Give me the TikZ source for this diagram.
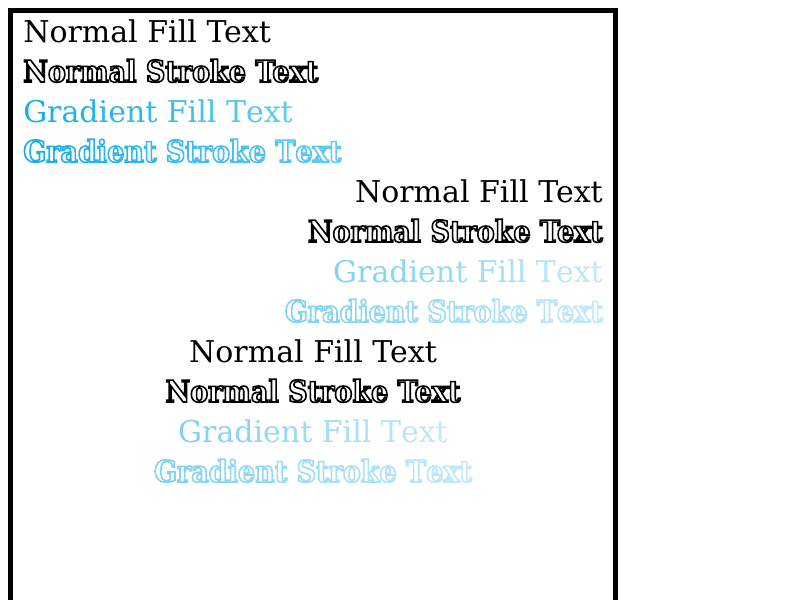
\documentclass[tikz,border=0pt]{standalone}
\usepackage{fontspec}
\setmainfont{DejaVu Serif}
\newfontfamily\stkfont{DejaVu Serif}[FakeStretch=0.9]
\usepackage{xcolor}
\definecolor{gA}{HTML}{1AAEE6}
\definecolor{gB}{HTML}{5FCBF2}
\definecolor{gC}{HTML}{81D2F2}
\definecolor{gD}{HTML}{C2E9F9}
\ExplSyntaxOn
\NewDocumentCommand\gradtext{mmm}{
  \str_set:Nn \l_tmpa_str {#3}
  \int_set:Nn \l_tmpa_int {\str_count:N \l_tmpa_str}
  \int_zero:N \l_tmpb_int
  \str_map_inline:Nn \l_tmpa_str
   {
     \int_incr:N \l_tmpb_int
     \textcolor{#2!\int_eval:n{(100*(\l_tmpb_int-1))/(\l_tmpa_int-1)}!#1}{\relax##1}
   }
}
\ExplSyntaxOff
\newcommand\outl[1]{\special{pdf:literal direct 1 Tr 1.2 w}#1\special{pdf:literal direct 0 Tr}}
\tikzset{
  txt/.style={inner sep=0pt,font=\fontsize{22.5pt}{27pt}\selectfont},
  stk/.style={inner sep=0pt,font=\fontsize{22.5pt}{27pt}\stkfont\bfseries},
}
\begin{document}
\begin{tikzpicture}[x=0.75pt,y=-0.75pt]
\useasboundingbox (0,0) rectangle (800,600);
\clip (0,0) rectangle (800,600);
\fill[white] (0,0) rectangle (800,600);
\draw[line width=3.75pt] (10.5,640) -- (10.5,10.5) -- (615.5,10.5) -- (615.5,640);
% block 1
\node[txt,anchor=base west] (a1) at (23,42) {Normal Fill Text};
\node[stk,anchor=base west] (a2) at (23,82) {\outl{Normal Stroke Text}};
\node[txt,anchor=base west] (a3) at (23,122) {\gradtext{gA}{gB}{Gradient Fill Text}};
\node[stk,anchor=base west] (a4) at (23,162) {\outl{\gradtext{gA}{gB}{Gradient Stroke Text}}};
% block 2
\node[txt,anchor=base east] (b1) at (603,202) {Normal Fill Text};
\node[stk,anchor=base east] (b2) at (603,242) {\outl{Normal Stroke Text}};
\node[txt,anchor=base east] (b3) at (603,282) {\gradtext{gC}{gD}{Gradient Fill Text}};
\node[stk,anchor=base east] (b4) at (603,322) {\outl{\gradtext{gC}{gD}{Gradient Stroke Text}}};
% block 3
\node[txt,anchor=base] (c1) at (313,362) {Normal Fill Text};
\node[stk,anchor=base] (c2) at (313,402) {\outl{Normal Stroke Text}};
\node[txt,anchor=base] (c3) at (313,442) {\gradtext{gC}{gD}{Gradient Fill Text}};
\node[stk,anchor=base] (c4) at (313,482) {\outl{\gradtext{gC}{gD}{Gradient Stroke Text}}};
\end{tikzpicture}
\end{document}
